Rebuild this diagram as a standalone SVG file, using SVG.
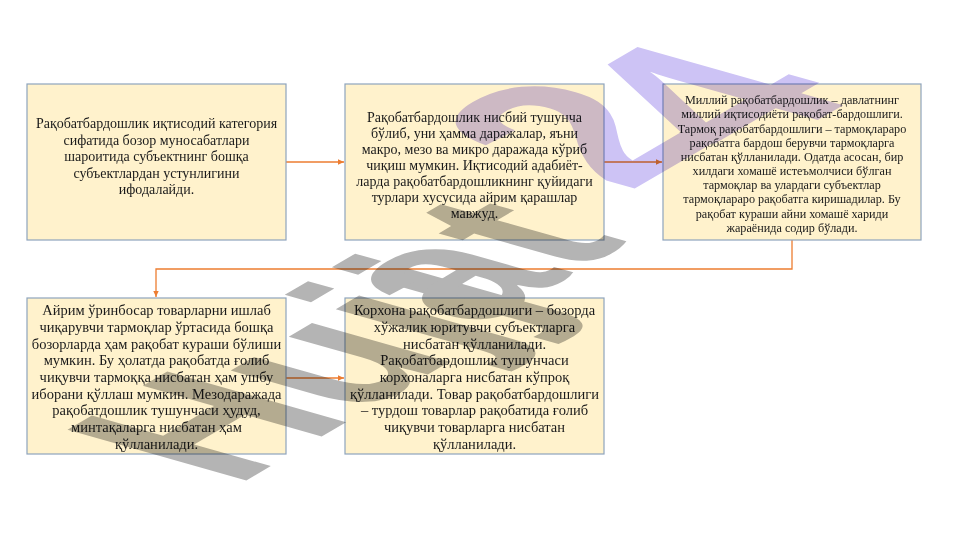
<svg xmlns="http://www.w3.org/2000/svg" width="961" height="540" viewBox="0 0 961 540">
<defs>
<marker id="arr" viewBox="0 0 10 10" refX="9" refY="5" markerWidth="7" markerHeight="7" markerUnits="userSpaceOnUse" orient="auto">
<path d="M0,1 L9,5 L0,9 Z" fill="#ED7D31"/>
</marker>
<style>
.box{fill:#FFF2CC;stroke:#8EA4BD;stroke-width:1.2}
.t{font-family:"Liberation Serif","Times New Roman",serif;fill:#1a1a1a;text-anchor:middle}
.l{font-size:14px}
.m{font-size:14.5px}
.s{font-size:12.2px}
.c{fill:none;stroke:#ED7D31;stroke-width:1.3}
.wm{font-family:"Liberation Sans",Arial,sans-serif;font-weight:bold;font-size:100px;mix-blend-mode:multiply}
.g{fill:#b4b4b4}
.p{fill:#cdc3f5;font-size:115px}
</style>
</defs>
<rect width="961" height="540" fill="#ffffff"/>
<g id="connectors">
<path class="c" d="M286,162 H344" marker-end="url(#arr)"/>
<path class="c" d="M604,162 H662" marker-end="url(#arr)"/>
<path class="c" d="M792,240 V269 H156 V297" marker-end="url(#arr)"/>
<path class="c" d="M286,378 H344" marker-end="url(#arr)"/>
</g>
<g id="node1">
<rect class="box" x="27" y="84" width="259" height="156"/>
<text class="t l"><tspan x="156.5" y="128">Рақобатбардошлик иқтисодий категория</tspan><tspan x="156.5" y="144.5">сифатида бозор муносабатлари</tspan><tspan x="156.5" y="161">шароитида субъектнинг бошқа</tspan><tspan x="156.5" y="177.5">субъектлардан устунлигини</tspan><tspan x="156.5" y="194">ифодалайди.</tspan></text>
</g>
<g id="node2">
<rect class="box" x="345" y="84" width="259" height="156"/>
<text class="t l"><tspan x="474.5" y="122">Рақобатбардошлик нисбий тушунча</tspan><tspan x="474.5" y="138">бўлиб, уни ҳамма даражалар, яъни</tspan><tspan x="474.5" y="154">макро, мезо ва микро даражада кўриб</tspan><tspan x="474.5" y="170">чиқиш мумкин. Иқтисодий  адабиёт-</tspan><tspan x="474.5" y="186">ларда рақобатбардошликнинг қуйидаги</tspan><tspan x="474.5" y="202">турлари хусусида айрим қарашлар</tspan><tspan x="474.5" y="218">мавжуд.</tspan></text>
</g>
<g id="node3">
<rect class="box" x="663" y="84" width="258" height="156"/>
<text class="t s"><tspan x="792" y="104">Миллий рақобатбардошлик – давлатнинг</tspan><tspan x="792" y="118">миллий иқтисодиёти рақобат-бардошлиги.</tspan><tspan x="792" y="133">Тармоқ рақобатбардошлиги – тармоқлараро</tspan><tspan x="792" y="147">рақобатга бардош берувчи тармоқларга</tspan><tspan x="792" y="161">нисбатан  қўлланилади. Одатда асосан, бир</tspan><tspan x="792" y="175">хилдаги хомашё истеъмолчиси бўлган</tspan><tspan x="792" y="189">тармоқлар ва улардаги субъектлар</tspan><tspan x="792" y="203">тармоқлараро рақобатга киришадилар. Бу</tspan><tspan x="792" y="218">рақобат кураши айни хомашё хариди</tspan><tspan x="792" y="232">жараёнида содир бўлади.</tspan></text>
</g>
<g id="node4">
<rect class="box" x="27" y="298" width="259" height="156"/>
<text class="t m"><tspan x="156.5" y="315">Айрим ўринбосар товарларни ишлаб</tspan><tspan x="156.5" y="332">чиқарувчи тармоқлар ўртасида бошқа</tspan><tspan x="156.5" y="349">бозорларда ҳам рақобат кураши бўлиши</tspan><tspan x="156.5" y="365">мумкин. Бу ҳолатда рақобатда ғолиб</tspan><tspan x="156.5" y="382">чиқувчи тармоққа нисбатан ҳам ушбу</tspan><tspan x="156.5" y="399">иборани қўллаш мумкин. Мезодаражада</tspan><tspan x="156.5" y="415">рақобатдошлик тушунчаси ҳудуд,</tspan><tspan x="156.5" y="432">минтақаларга нисбатан ҳам</tspan><tspan x="156.5" y="449">қўлланилади.</tspan></text>
</g>
<g id="node5">
<rect class="box" x="345" y="298" width="259" height="156"/>
<text class="t m"><tspan x="474.5" y="315">Корхона рақобатбардошлиги – бозорда</tspan><tspan x="474.5" y="332">хўжалик юритувчи субъектларга</tspan><tspan x="474.5" y="349">нисбатан қўлланилади.</tspan><tspan x="474.5" y="365">Рақобатбардошлик тушунчаси</tspan><tspan x="474.5" y="382">корхоналарга нисбатан кўпроқ</tspan><tspan x="474.5" y="399">қўлланилади. Товар рақобатбардошлиги</tspan><tspan x="474.5" y="415">– турдош товарлар рақобатида ғолиб</tspan><tspan x="474.5" y="432">чиқувчи товарларга нисбатан</tspan><tspan x="474.5" y="449">қўлланилади.</tspan></text>
</g>
<g id="watermark">
<text class="wm g" transform="matrix(1.697,-0.99,2.6,0.736,235,487)">Hujj<tspan dx="-34" dy="-7">at</tspan></text>
<text class="wm p" transform="matrix(1.697,-0.99,2.6,0.736,235,487)"><tspan x="276" y="-29">2</tspan><tspan x="324" y="-12">4</tspan></text>
</g>
</svg>
